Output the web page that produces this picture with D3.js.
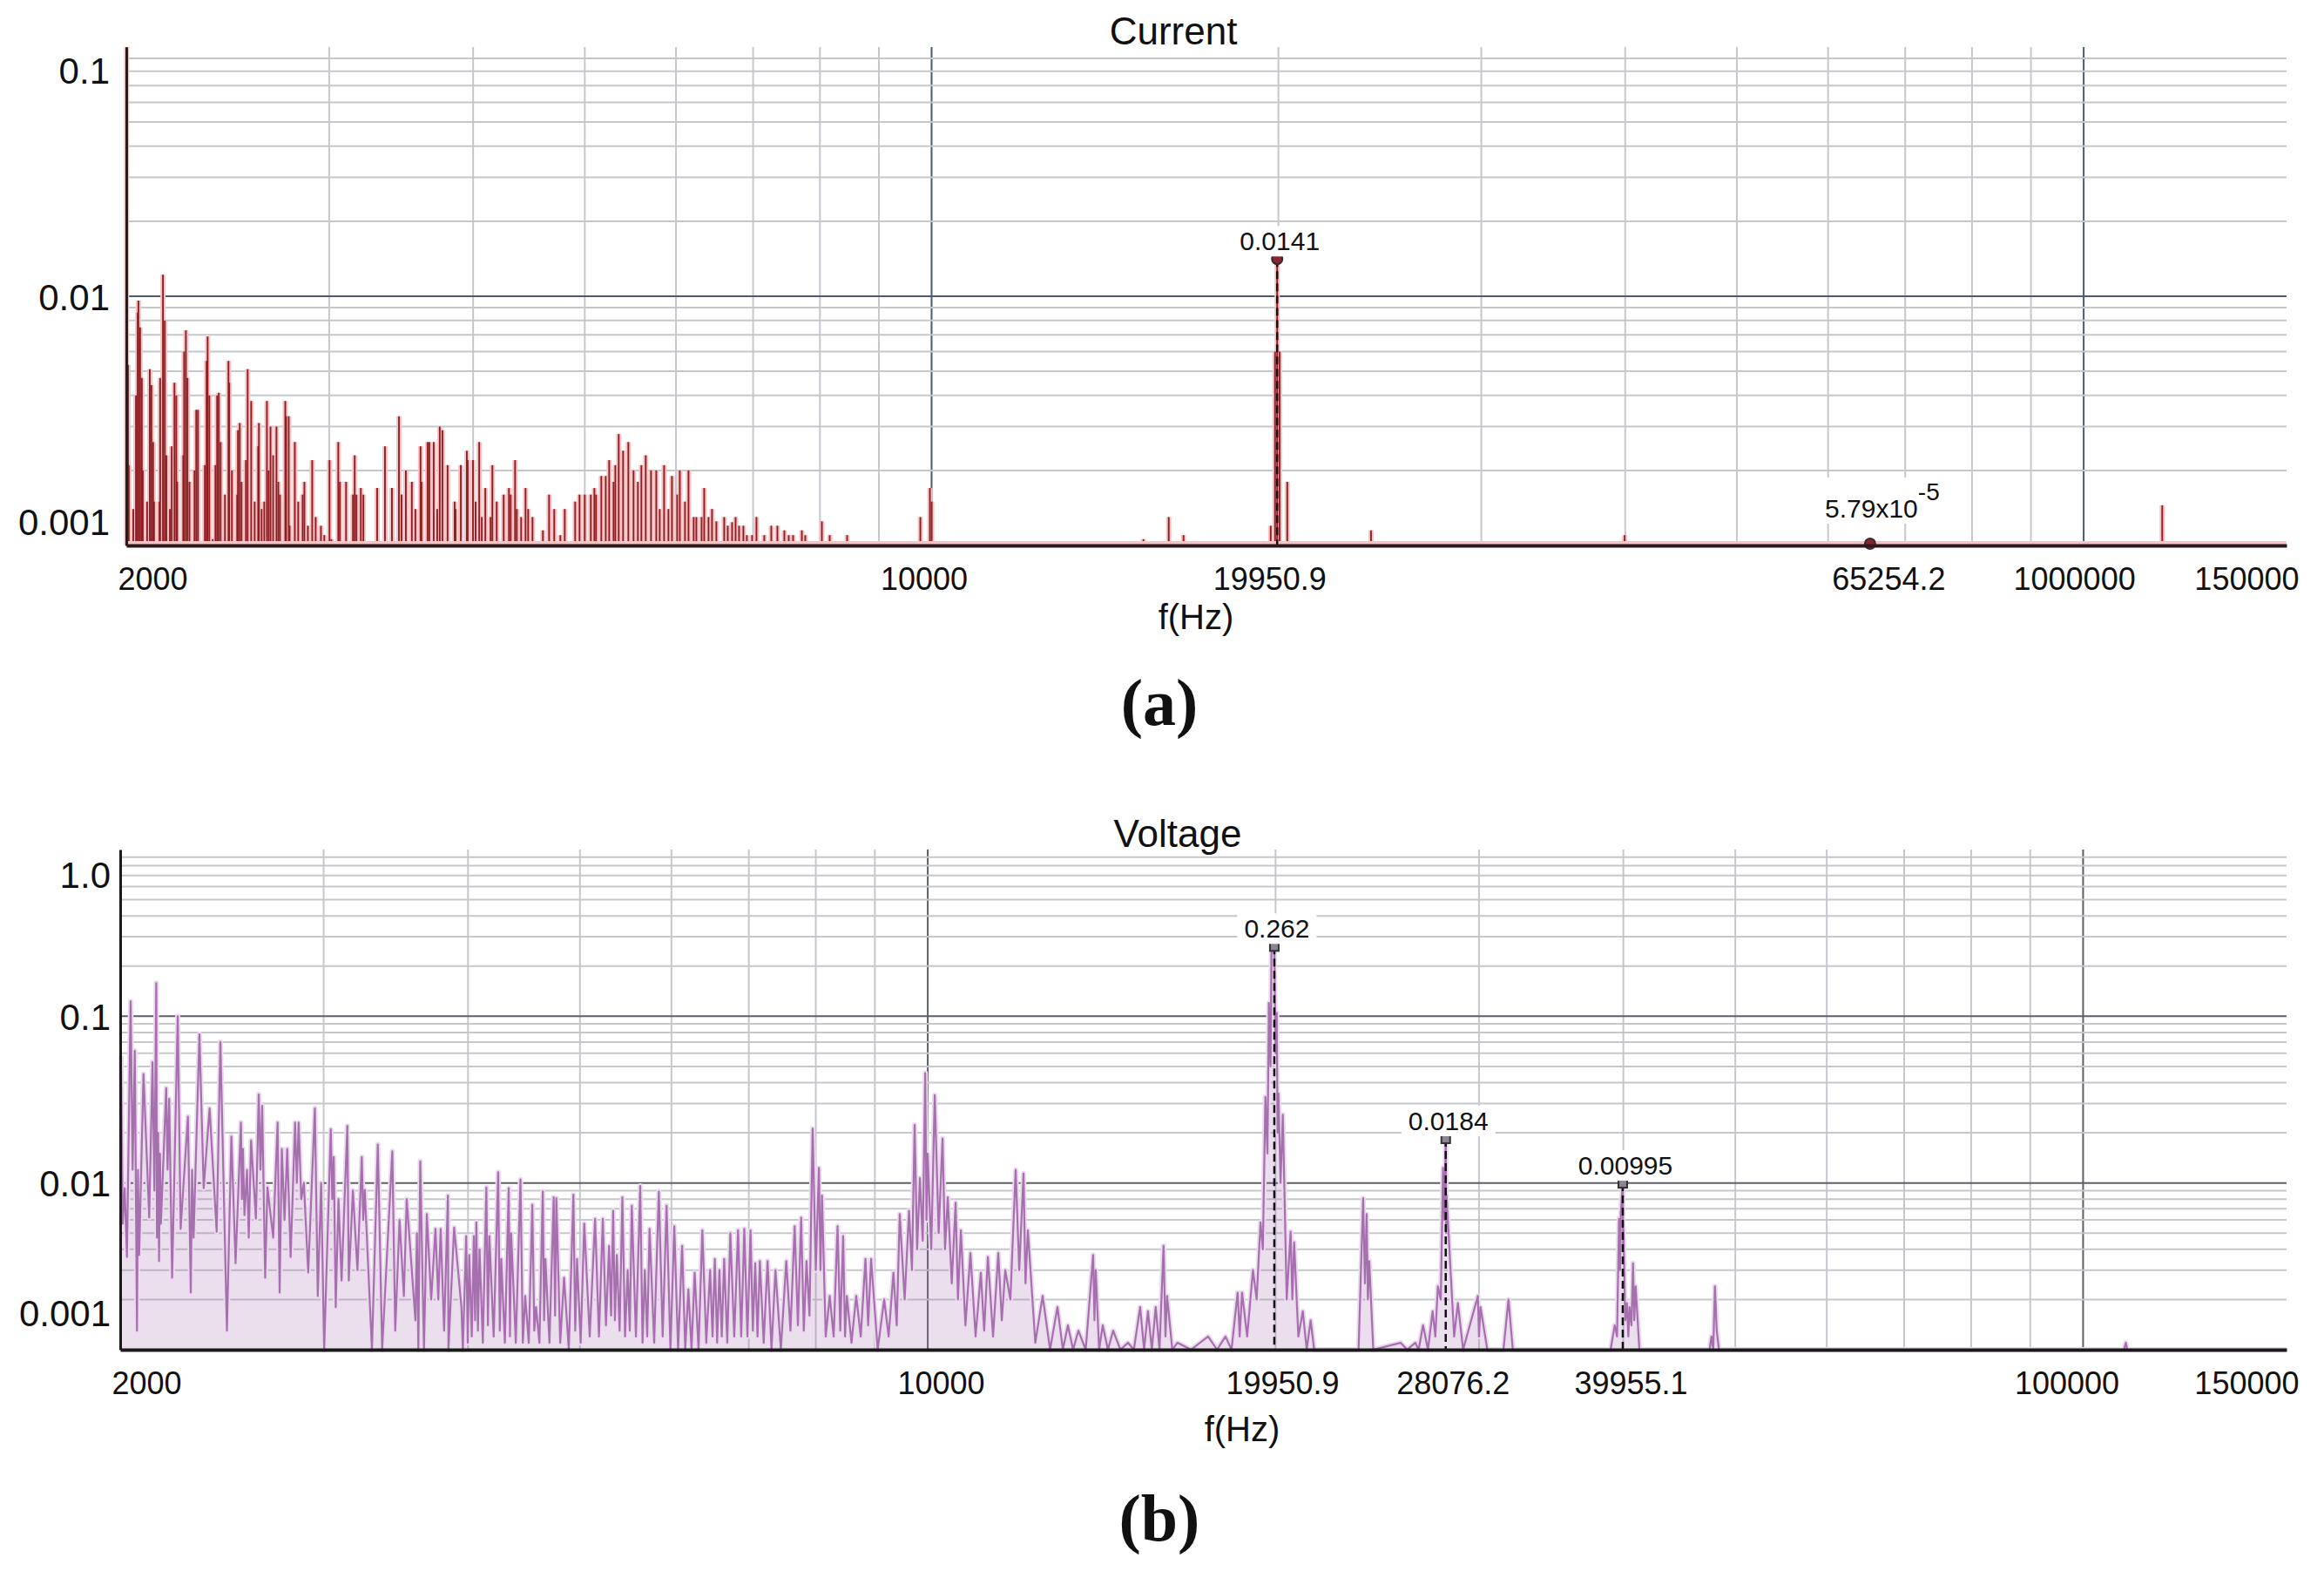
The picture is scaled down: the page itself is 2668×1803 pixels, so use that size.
<!DOCTYPE html>
<html>
<head>
<meta charset="utf-8">
<script src="https://cdn.jsdelivr.net/npm/d3@7"></script>
<style>
  body { margin: 0; background: #fff; }
  text { font-family: "Liberation Sans", Arial, sans-serif; fill: #111; }
</style>
</head>
<body>
<div class="canvas"></div>
<script>
// tick values and labels (as printed on the chart)
const currentXTicks = [2000, 10000, 19950.9, 65254.2, 100000, 150000]
const currentXLabels = ['2000', '10000', '19950.9', '65254.2', '1000000', '150000']
const voltageXTicks = [2000, 10000, 19950.9, 28076.2, 39955.1, 100000, 150000]
const voltageXLabels = ['2000', '10000', '19950.9', '28076.2', '39955.1', '100000', '150000']
const currentYTicks = [0.1, 0.01, 0.001]
const currentYLabels = ['0.1', '0.01', '0.001']
const voltageYTicks = [1, 0.1, 0.01, 0.001]
const voltageYLabels = ['1.0', '0.1', '0.01', '0.001']

// current spectrum (f in Hz, amplitude)
const currentFreq = [
  2001, 2007, 2010, 2028, 2039, 2046, 2049, 2056, 2063, 2067,
  2085, 2096, 2103, 2110, 2114, 2137, 2140, 2152, 2160, 2167,
  2182, 2190, 2202, 2210, 2214, 2241, 2245, 2253, 2260, 2269,
  2292, 2300, 2308, 2317, 2340, 2348, 2353, 2361, 2377, 2390,
  2398, 2406, 2415, 2436, 2453, 2457, 2470, 2496, 2500, 2509,
  2518, 2540, 2549, 2567, 2585, 2603, 2607, 2621, 2635, 2649,
  2658, 2668, 2682, 2700, 2710, 2719, 2748, 2753, 2767, 2772,
  2801, 2820, 2845, 2855, 2875, 2900, 2920, 2951, 2971, 3002,
  3013, 3055, 3065, 3103, 3146, 3157, 3168, 3196, 3212, 3302,
  3354, 3401, 3449, 3467, 3497, 3539, 3564, 3601, 3608, 3652,
  3665, 3697, 3723, 3742, 3762, 3801, 3855, 3862, 3903, 3950,
  3957, 3999, 4020, 4049, 4070, 4099, 4142, 4157, 4193, 4252,
  4297, 4312, 4350, 4365, 4403, 4442, 4465, 4504, 4599, 4656,
  4704, 4762, 4804, 4905, 4948, 5000, 5061, 5097, 5114, 5168,
  5214, 5250, 5296, 5315, 5351, 5398, 5455, 5512, 5560, 5599,
  5648, 5708, 5768, 5808, 5859, 5910, 5952, 6014, 6046, 6109,
  6152, 6216, 6249, 6315, 6348, 6403, 6448, 6504, 6607, 6654,
  6712, 6759, 6806, 6865, 6913, 6986, 7047, 7158, 7259, 7348,
  7451, 7516, 7582, 7716, 7769, 7892, 7975, 8031, 8158, 8258,
  8447, 8671, 9778, 9967, 10002, 15272, 16064, 16546, 19696, 19868,
  19950.9, 20050, 20358, 24066, 39955, 96220, 117000
]
const currentAmp = [
  0.1, 0.0053, 0.0021, 0.0014, 0.0040, 0.0086, 0.0096, 0.0075, 0.0047, 0.0020,
  0.0015, 0.0051, 0.0044, 0.0026, 0.0015, 0.0015, 0.0047, 0.0122, 0.0080, 0.0023,
  0.0014, 0.0025, 0.0045, 0.0040, 0.0018, 0.0023, 0.0060, 0.0073, 0.0047, 0.0018,
  0.0020, 0.0035, 0.0035, 0.00104, 0.0021, 0.0055, 0.0069, 0.0040, 0.00106, 0.0021,
  0.0040, 0.0041, 0.0026, 0.0016, 0.0055, 0.0045, 0.0020, 0.0016, 0.0029, 0.0031,
  0.0018, 0.0022, 0.0051, 0.0038, 0.0015, 0.0025, 0.0031, 0.0014, 0.0015, 0.0038,
  0.0020, 0.0030, 0.0023, 0.0030, 0.0018, 0.0016, 0.0038, 0.0033, 0.0033, 0.0012,
  0.0026, 0.0015, 0.0016, 0.0018, 0.0012, 0.0022, 0.0013, 0.0012, 0.0011, 0.0022,
  0.00106, 0.0026, 0.0018, 0.0018, 0.0016, 0.0023, 0.0016, 0.0017, 0.0016, 0.0017,
  0.0025, 0.0017, 0.0033, 0.0016, 0.0020, 0.0018, 0.0014, 0.0025, 0.0018, 0.0026,
  0.0026, 0.0026, 0.0014, 0.0030, 0.0029, 0.0021, 0.0015, 0.0014, 0.0021, 0.0024,
  0.0022, 0.0022, 0.0015, 0.0026, 0.0013, 0.0017, 0.0013, 0.0021, 0.0015, 0.0016,
  0.0017, 0.0016, 0.0022, 0.0014, 0.0013, 0.0017, 0.0014, 0.0013, 0.00115, 0.0016,
  0.0014, 0.0011, 0.0014, 0.0015, 0.0016, 0.0016, 0.0016, 0.0017, 0.0016, 0.0019,
  0.0019, 0.0022, 0.0018, 0.0021, 0.0028, 0.0024, 0.0026, 0.0020, 0.0018, 0.0021,
  0.0023, 0.0020, 0.0020, 0.0014, 0.0021, 0.0014, 0.0019, 0.0016, 0.0020, 0.0015,
  0.0020, 0.0013, 0.0013, 0.0013, 0.0017, 0.0013, 0.0014, 0.00125, 0.0013, 0.0012,
  0.00124, 0.0013, 0.0012, 0.0012, 0.0011, 0.0011, 0.0013, 0.0011, 0.0012, 0.0012,
  0.00115, 0.0011, 0.0011, 0.00115, 0.0011, 0.0010, 0.00102, 0.00125, 0.0011, 0.0010,
  0.0011, 0.0010, 0.0013, 0.0017, 0.0015, 0.00106, 0.0013, 0.0011, 0.0012, 0.0060,
  0.0141, 0.0060, 0.0018, 0.00115, 0.0011, 0.00101, 0.00145
]

// voltage spectrum (f in Hz, amplitude), trace peaks and troughs
const voltageFreq = [
  2003, 2010, 2018, 2027, 2042, 2050, 2059, 2068, 2072, 2077,
  2095, 2119, 2133, 2141, 2149, 2152, 2157, 2161, 2165, 2169,
  2192, 2198, 2205, 2218, 2243, 2256, 2289, 2302, 2308, 2315,
  2342, 2362, 2390, 2424, 2442, 2474, 2496, 2517, 2544, 2549,
  2554, 2562, 2575, 2584, 2596, 2621, 2636, 2645, 2654, 2670,
  2682, 2713, 2737, 2748, 2760, 2775, 2790, 2809, 2834, 2844,
  2854, 2869, 2884, 2909, 2948, 2965, 2985, 3003, 3043, 3052,
  3061, 3073, 3090, 3109, 3145, 3154, 3180, 3209, 3237, 3246,
  3256, 3303, 3342, 3371, 3440, 3460, 3490, 3520, 3540, 3602,
  3613, 3623, 3637, 3664, 3685, 3717, 3749, 3770, 3788, 3814,
  3843, 3847, 3891, 3948, 3959, 3986, 3998, 4010, 4030, 4047,
  4057, 4067, 4080, 4093, 4120, 4149, 4162, 4174, 4210, 4248,
  4262, 4274, 4305, 4338, 4349, 4359, 4400, 4441, 4462, 4483,
  4515, 4547, 4565, 4581, 4612, 4643, 4655, 4667, 4705, 4745,
  4758, 4770, 4807, 4844, 4890, 4935, 4953, 4971, 5007, 5043,
  5098, 5153, 5193, 5233, 5266, 5299, 5320, 5342, 5361, 5381,
  5411, 5441, 5470, 5499, 5522, 5544, 5590, 5638, 5664, 5690,
  5717, 5744, 5797, 5851, 5896, 5942, 5988, 6034, 6080, 6129,
  6167, 6206, 6245, 6284, 6333, 6381, 6431, 6481, 6512, 6542,
  6572, 6602, 6633, 6665, 6706, 6747, 6800, 6852, 6895, 6938,
  6981, 7024, 7057, 7090, 7123, 7156, 7211, 7267, 7324, 7382,
  7462, 7543, 7606, 7670, 7720, 7770, 7811, 7853, 7900, 7950,
  8000, 8050, 8075, 8099, 8160, 8225, 8290, 8355, 8400, 8448,
  8480, 8511, 8590, 8671, 8750, 8833, 8880, 8932, 9050, 9168,
  9250, 9339, 9400, 9457, 9550, 9634, 9690, 9742, 9790, 9845,
  9900, 9950, 9975, 9998, 10070, 10140, 10220, 10299, 10350, 10407,
  10490, 10571, 10620, 10682, 10780, 10887, 11000, 11116, 11190, 11273,
  11390, 11509, 11590, 11670, 11790, 11915, 12000, 12103, 12150, 12208,
  12390, 12573, 12760, 12950, 13090, 13222, 13360, 13501, 13700, 13904,
  13940, 13976, 14070, 14172, 14320, 14470, 14680, 14903, 15080, 15270,
  15390, 15510, 15630, 15751, 15870, 15999, 16060, 16111, 16280, 16448,
  16900, 17484, 17800, 18101, 18320, 18546, 18620, 18708, 18900, 19120,
  19260, 19410, 19500, 19600, 19680, 19736, 19800, 19839, 19950.9, 20000,
  20046, 20080, 20116, 20200, 20291, 20450, 20610, 20680, 20754, 20930,
  21117, 21280, 21450, 21600, 23600, 23815, 23900, 23980, 24040, 24105,
  24300, 25660, 26000, 26420, 26600, 26835, 27100, 27352, 27500, 27638,
  27800, 27927, 28000, 28076.2, 28100, 28122, 28318, 28550, 28764, 29065,
  29935, 30000, 30091, 30500, 31500, 31815, 32091, 39000, 39317, 39500,
  39660, 39740, 39799, 39955.1, 39980, 40006, 40150, 40285, 40400, 40495,
  40650, 40778, 40880, 40991, 41300, 47500, 47681, 47850, 48013, 48180,
  48400, 108500, 108884, 109200, 150000
]
const voltageAmp = [
  0.058, 0.0057, 0.0093, 0.0036, 0.123, 0.012, 0.062, 0.0013, 0.012, 0.0037,
  0.045, 0.0062, 0.053, 0.009, 0.158, 0.0047, 0.02, 0.0034, 0.015, 0.0057,
  0.037, 0.012, 0.032, 0.0027, 0.1, 0.0053, 0.025, 0.0022, 0.012, 0.0047,
  0.078, 0.0093, 0.028, 0.0051, 0.070, 0.0013, 0.019, 0.0033, 0.023, 0.008,
  0.016, 0.0064, 0.012, 0.0047, 0.018, 0.0061, 0.034, 0.012, 0.029, 0.0027,
  0.0094, 0.0047, 0.023, 0.0022, 0.016, 0.006, 0.016, 0.0036, 0.023, 0.01,
  0.023, 0.008, 0.010, 0.0029, 0.028, 0.0021, 0.01, 0.0009, 0.021, 0.008,
  0.0143, 0.0018, 0.008, 0.0026, 0.022, 0.0026, 0.009, 0.003, 0.0143, 0.006,
  0.0091, 0.0009, 0.017, 0.0009, 0.0155, 0.0013, 0.006, 0.0021, 0.008, 0.0015,
  0.005, 0.0009, 0.0135, 0.0009, 0.0065, 0.002, 0.0053, 0.002, 0.0053, 0.0013,
  0.0084, 0.0009, 0.0054, 0.0018, 0.0009, 0.0048, 0.0011, 0.0037, 0.0012, 0.0048,
  0.0015, 0.0058, 0.0013, 0.0040, 0.0011, 0.0094, 0.0014, 0.0048, 0.0012, 0.0116,
  0.0013, 0.0035, 0.0011, 0.0093, 0.0012, 0.0050, 0.0011, 0.0105, 0.0011, 0.0021,
  0.0011, 0.0074, 0.0013, 0.0018, 0.0011, 0.0089, 0.0015, 0.0035, 0.0011, 0.0082,
  0.0016, 0.0081, 0.0011, 0.0027, 0.0010, 0.0085, 0.0013, 0.0035, 0.0011, 0.0057,
  0.0012, 0.0061, 0.0012, 0.0061, 0.0014, 0.0042, 0.0016, 0.0068, 0.0015, 0.0037,
  0.0013, 0.0082, 0.0012, 0.0030, 0.0013, 0.0073, 0.0012, 0.0096, 0.0011, 0.0030,
  0.0012, 0.0053, 0.0011, 0.0089, 0.0012, 0.0073, 0.0010, 0.0055, 0.0010, 0.0042,
  0.0010, 0.0023, 0.0009, 0.0029, 0.0010, 0.0052, 0.0011, 0.0030, 0.0012, 0.0035,
  0.0011, 0.0030, 0.0012, 0.0035, 0.0011, 0.0050, 0.0012, 0.0052, 0.0012, 0.0053,
  0.0012, 0.0052, 0.0013, 0.0033, 0.0012, 0.0034, 0.0011, 0.0034, 0.0010, 0.0030,
  0.0009, 0.0034, 0.0013, 0.0055, 0.0014, 0.0062, 0.0013, 0.0034, 0.0016, 0.0212,
  0.0030, 0.0123, 0.0030, 0.0084, 0.0012, 0.0021, 0.0012, 0.0055, 0.0013, 0.0048,
  0.0012, 0.0021, 0.0011, 0.0021, 0.0012, 0.0035, 0.0014, 0.0035, 0.0010, 0.0020,
  0.0012, 0.0029, 0.0014, 0.0065, 0.0020, 0.0068, 0.0030, 0.0223, 0.0040, 0.0107,
  0.0045, 0.0456, 0.0060, 0.0150, 0.0040, 0.0336, 0.0050, 0.0185, 0.0040, 0.0082,
  0.0025, 0.0076, 0.0020, 0.0052, 0.0014, 0.0038, 0.0012, 0.0029, 0.0013, 0.0036,
  0.0012, 0.0038, 0.0015, 0.0030, 0.0020, 0.0120, 0.0030, 0.0114, 0.0025, 0.0052,
  0.0011, 0.0021, 0.0010, 0.0018, 0.0010, 0.0014, 0.0009, 0.0013, 0.0009, 0.0037,
  0.0015, 0.0030, 0.0010, 0.0014, 0.0009, 0.0013, 0.0009, 0.0011, 0.0009, 0.0018,
  0.0010, 0.0017, 0.0010, 0.0018, 0.0010, 0.0042, 0.0012, 0.0021, 0.0009, 0.0011,
  0.0009, 0.0012, 0.0009, 0.0012, 0.0010, 0.0022, 0.0012, 0.0022, 0.0012, 0.0030,
  0.0020, 0.0058, 0.0040, 0.0328, 0.0150, 0.12, 0.05, 0.242, 0.262, 0.06,
  0.105, 0.02, 0.0344, 0.010, 0.0257, 0.002, 0.0051, 0.002, 0.0044, 0.0012,
  0.0017, 0.0010, 0.0015, 0.0009, 0.0009, 0.0081, 0.0025, 0.0065, 0.0020, 0.0034,
  0.0009, 0.0011, 0.0009, 0.0011, 0.0009, 0.0014, 0.0010, 0.0017, 0.0012, 0.0024,
  0.0020, 0.0123, 0.006, 0.0184, 0.005, 0.0084, 0.0034, 0.0012, 0.0019, 0.0009,
  0.0021, 0.0012, 0.0018, 0.0009, 0.0009, 0.0020, 0.0009, 0.0009, 0.0014, 0.0012,
  0.0061, 0.003, 0.0066, 0.00995, 0.004, 0.0053, 0.0015, 0.0019, 0.0012, 0.0018,
  0.0014, 0.0033, 0.0015, 0.0024, 0.0009, 0.0009, 0.0012, 0.0010, 0.0024, 0.0013,
  0.0009, 0.0009, 0.0011, 0.0009, 0.0009
]

// marked peaks
const currentMarkFreq = [19950.9, 65254.2]
const currentMarkAmp = [0.0141, 5.79e-5]
const currentMarkText = ['0.0141', '5.79x10']
const currentMarkSup = ['', '-5']
const voltageMarkFreq = [19950.9, 28076.2, 39955.1]
const voltageMarkAmp = [0.262, 0.0184, 0.00995]
const voltageMarkText = ['0.262', '0.0184', '0.00995']
const voltageMarkSup = ['', '', '']

// panel layouts
const panels = [
  {
    title: 'Current', tag: '(a)',
    left: 145, right: 2625, top: 54, bottom: 626,
    yDomain: [0.001, 0.1], darkY: [0.01],
    xTicks: currentXTicks, xLabels: currentXLabels,
    yTicks: currentYTicks, yLabels: currentYLabels,
    freq: currentFreq, amp: currentAmp, kind: 'stem',
    color: '#8f1e24', glow: '#f6c4c4', markFill: '#8a2432', markShape: 'circle',
    markFreq: currentMarkFreq, markAmp: currentMarkAmp,
    markText: currentMarkText, markSup: currentMarkSup,
    titleX: 1347, titleY: 51, unitX: 1373, unitY: 722, tagY: 832,
    yLabelPad: 19, yLabelClamp: [26, 28], xNudge: [0, -9, -9, 21, -11, 0],
    axisColor: '#2b1a1a', darkGrid: '#4d5a6e',
  },
  {
    title: 'Voltage', tag: '(b)',
    left: 138, right: 2625, top: 975, bottom: 1549,
    yDomain: [0.001, 1], darkY: [0.1, 0.01],
    xTicks: voltageXTicks, xLabels: voltageXLabels,
    yTicks: voltageYTicks, yLabels: voltageYLabels,
    freq: voltageFreq, amp: voltageAmp, kind: 'line',
    color: '#a66fae', glow: '#ecdaef', markFill: '#8d8494', markShape: 'square',
    markFreq: voltageMarkFreq, markAmp: voltageMarkAmp,
    markText: voltageMarkText, markSup: voltageMarkSup,
    titleX: 1352, titleY: 972, unitX: 1426, unitY: 1654, tagY: 1768,
    yLabelPad: 11, yLabelClamp: [28, 43], xNudge: [0, 15, 9, 8, 9, -19, 0],
    axisColor: '#1a1a1a', darkGrid: '#5c5f66',
  },
]

const svg = d3
  .select('.canvas')
  .append('svg')
  .attr('width', 2668)
  .attr('height', 1803)
  .style('background', '#fff')

const isNear = (a, b) => Math.abs(a - b) / b < 1e-6

const drawPanel = (p) => {
  const x = d3.scaleLog().domain([2000, 150000]).range([p.left, p.right])
  const y = d3.scaleLog().domain(p.yDomain).range([p.bottom, p.top]).clamp(true)
  const g = svg.append('g')

  // vertical grid
  const decade = (v) => Math.abs(Math.log10(v) - Math.round(Math.log10(v))) < 1e-9
  g.append('g')
    .selectAll('line')
    .data(x.ticks().filter((v) => v > 2000 && v < 150000))
    .enter()
    .append('line')
    .attr('x1', (d) => x(d))
    .attr('x2', (d) => x(d))
    .attr('y1', p.top)
    .attr('y2', p.bottom)
    .attr('stroke', (d) => (decade(d) ? p.darkGrid : '#c5c7cd'))
    .attr('stroke-width', 2)

  // horizontal grid
  g.append('g')
    .selectAll('line')
    .data(y.ticks().filter((v) => v > p.yDomain[0] * 1.001 && v < p.yDomain[1] * 0.999))
    .enter()
    .append('line')
    .attr('x1', p.left)
    .attr('x2', p.right)
    .attr('y1', (d) => y(d))
    .attr('y2', (d) => y(d))
    .attr('stroke', (d) => (p.darkY.some((v) => isNear(d, v)) ? p.darkGrid : '#c5c7cd'))
    .attr('stroke-width', 2)

  // spectrum
  const pts = d3.zip(p.freq, p.amp)
  if (p.kind === 'stem') {
    ;[[p.glow, 6], [p.color, 1.9]].forEach(([c, w]) => {
      g.append('g')
        .selectAll('line')
        .data(pts)
        .enter()
        .append('line')
        .attr('x1', (d) => x(d[0]))
        .attr('x2', (d) => x(d[0]))
        .attr('y1', p.bottom)
        .attr('y2', (d) => y(d[1]))
        .attr('stroke', c)
        .attr('stroke-width', w)
    })
    g.append('line')
      .attr('x1', p.left)
      .attr('x2', p.right)
      .attr('y1', p.bottom - 2)
      .attr('y2', p.bottom - 2)
      .attr('stroke', p.glow)
      .attr('stroke-width', 6)
  } else {
    const area = d3
      .area()
      .x((d) => x(d[0]))
      .y0(p.bottom)
      .y1((d) => y(d[1]))
    const line = d3
      .line()
      .x((d) => x(d[0]))
      .y((d) => y(d[1]))
    g.append('path')
      .datum(pts)
      .attr('d', area)
      .attr('fill', p.color)
      .attr('fill-opacity', 0.22)
    g.append('path')
      .datum(pts)
      .attr('d', line)
      .attr('fill', 'none')
      .attr('stroke', p.glow)
      .attr('stroke-width', 6)
      .attr('stroke-linejoin', 'round')
    g.append('path')
      .datum(pts)
      .attr('d', line)
      .attr('fill', 'none')
      .attr('stroke', p.color)
      .attr('stroke-width', 2.2)
      .attr('stroke-linejoin', 'round')
  }

  // marked peaks
  p.markFreq.forEach((f, i) => {
    const mx = x(f)
    const my = y(p.markAmp[i])
    const below = p.markAmp[i] < p.yDomain[0]
    const cy = below ? p.bottom - 2 : my
    if (!below) {
      g.append('line')
        .attr('x1', mx)
        .attr('x2', mx)
        .attr('y1', my)
        .attr('y2', p.bottom)
        .attr('stroke', '#111')
        .attr('stroke-width', 2.5)
        .attr('stroke-dasharray', '9 5')
    }
    if (p.markShape === 'square') {
      g.append('rect')
        .attr('x', mx - 5)
        .attr('y', cy - 5)
        .attr('width', 10)
        .attr('height', 10)
        .attr('fill', p.markFill)
        .attr('stroke', '#333')
        .attr('stroke-width', 2)
    } else {
      g.append('circle')
        .attr('cx', mx)
        .attr('cy', cy)
        .attr('r', 6)
        .attr('fill', p.markFill)
        .attr('stroke', '#3a2a2a')
        .attr('stroke-width', 2)
    }
    const t = g
      .append('text')
      .attr('x', mx + (below ? 14 : 3))
      .attr('y', below ? p.bottom - 32 : my - 10)
      .attr('text-anchor', 'middle')
      .attr('font-size', 30)
    t.append('tspan').text(p.markText[i])
    if (p.markSup[i]) {
      t.append('tspan').attr('dy', -20).attr('font-size', 28).text(p.markSup[i])
    }
    const b = t.node().getBBox()
    g.insert('rect', () => t.node())
      .attr('x', b.x - 8)
      .attr('y', b.y - 1)
      .attr('width', b.width + 16)
      .attr('height', b.height + 2)
      .attr('fill', '#fff')
  })

  // axes
  const yAxis = d3
    .axisLeft(y)
    .tickValues(p.yTicks)
    .tickFormat((d, i) => p.yLabels[i])
    .tickSize(0)
    .tickSizeOuter(0)
    .tickPadding(p.yLabelPad)
  const yAxisGroup = g.append('g').attr('transform', `translate(${p.left}, 0)`).call(yAxis)
  yAxisGroup.select('.domain').attr('stroke', p.axisColor).attr('stroke-width', 3)
  yAxisGroup
    .selectAll('.tick text')
    .attr('font-size', 42)
    .attr('font-family', '"Liberation Sans", Arial, sans-serif')
    .attr('fill', '#111')
    .attr('dy', '0.36em')
    .attr('y', (d) => {
      const c = Math.max(p.top + p.yLabelClamp[0], Math.min(p.bottom - p.yLabelClamp[1], y(d)))
      return c - y(d)
    })

  const xAxis = d3
    .axisBottom(x)
    .tickValues(p.xTicks)
    .tickFormat((d, i) => p.xLabels[i])
    .tickSize(0)
    .tickSizeOuter(0)
  const xAxisGroup = g.append('g').attr('transform', `translate(0, ${p.bottom})`).call(xAxis)
  xAxisGroup.select('.domain').attr('stroke', p.axisColor).attr('stroke-width', 4)
  const last = p.xTicks.length - 1
  xAxisGroup
    .selectAll('.tick text')
    .attr('font-size', 36)
    .attr('font-family', '"Liberation Sans", Arial, sans-serif')
    .attr('fill', '#111')
    .attr('dy', 0)
    .attr('y', 51)
    .attr('x', (d, i) => (i === 0 ? -10 : i === last ? 14 : p.xNudge[i]))
    .attr('text-anchor', (d, i) => (i === 0 ? 'start' : i === last ? 'end' : 'middle'))

  // titles
  g.append('text')
    .attr('x', p.titleX)
    .attr('y', p.titleY)
    .attr('text-anchor', 'middle')
    .attr('font-size', 44)
    .text(p.title)
  g.append('text')
    .attr('x', p.unitX)
    .attr('y', p.unitY)
    .attr('text-anchor', 'middle')
    .attr('font-size', 40)
    .text('f(Hz)')
  g.append('text')
    .attr('x', 1331)
    .attr('y', p.tagY)
    .attr('text-anchor', 'middle')
    .attr('font-size', 76)
    .attr('font-weight', 'bold')
    .style('font-family', '"Liberation Serif", "Times New Roman", serif')
    .text(p.tag)
}

panels.forEach(drawPanel)
</script>
</body>
</html>
